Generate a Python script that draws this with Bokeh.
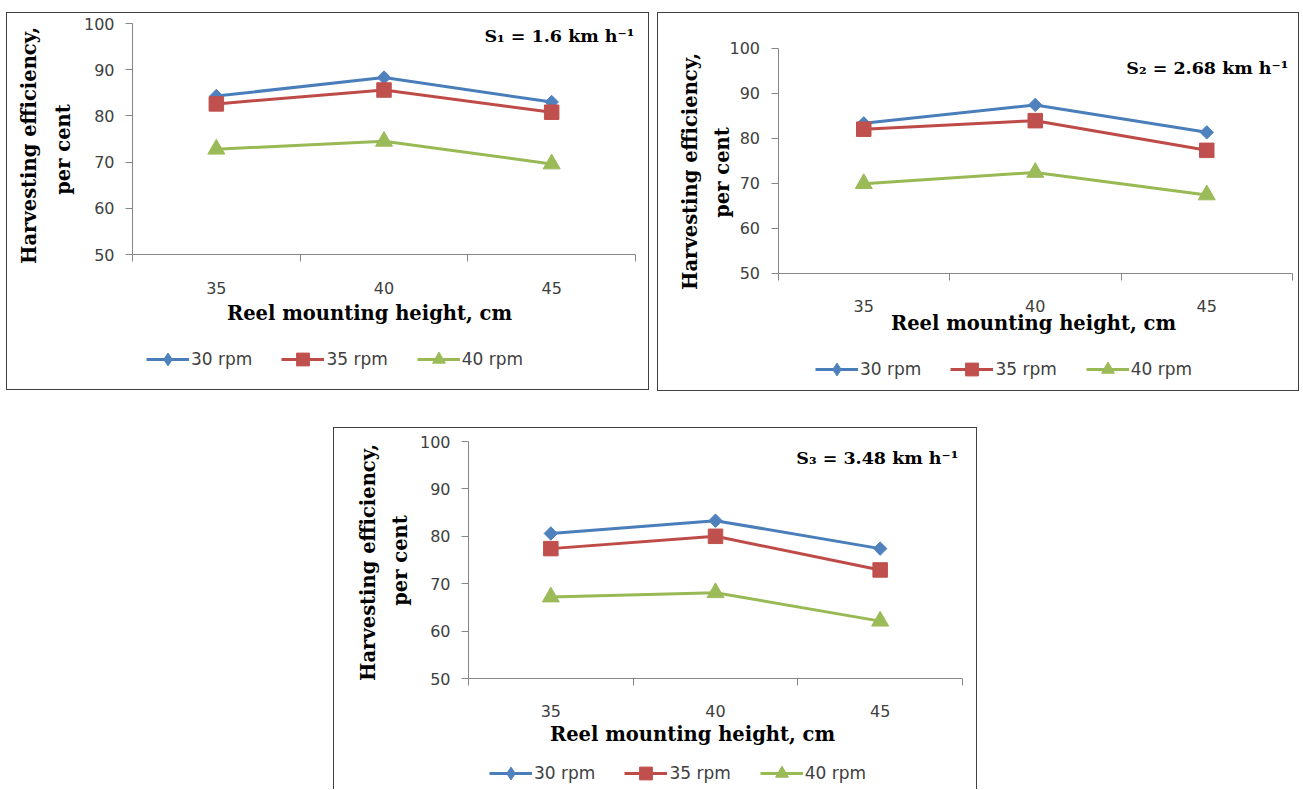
import numpy as np
from bokeh.plotting import figure
from bokeh.models import Range1d, FixedTicker, Legend, LegendItem, Label, Spacer
from bokeh.layouts import column, row
from bokeh.embed import file_html
from bokeh.resources import INLINE

# ---------------- data ----------------
heights_cm = [35, 40, 45]
rpm_labels = ["30 rpm", "35 rpm", "40 rpm"]

s1_30rpm = [84.3, 88.3, 83.0]
s1_35rpm = [82.6, 85.6, 80.8]
s1_40rpm = [72.8, 74.5, 69.6]

s2_30rpm = [83.3, 87.4, 81.3]
s2_35rpm = [82.0, 83.9, 77.3]
s2_40rpm = [69.9, 72.4, 67.4]

s3_30rpm = [80.6, 83.3, 77.4]
s3_35rpm = [77.4, 80.0, 72.9]
s3_40rpm = [67.2, 68.1, 62.1]

speed_labels = ["S\u2081 = 1.6 km h\u207b\u00b9", "S\u2082 = 2.68 km h\u207b\u00b9", "S\u2083 = 3.48 km h\u207b\u00b9"]
x_title = "Reel mounting height, cm"
y_title_lines = ["Harvesting efficiency,", "per cent"]
y_ticks = [50, 60, 70, 80, 90, 100]
category_edges = [32.5, 37.5, 42.5, 47.5]

# ---------------- style ----------------
LINE_COLORS = ["#4A7EBB", "#BE4B48", "#98B954"]
FILL_COLORS = ["#4F81BD", "#C0504D", "#9BBB59"]
# (plot marker, angle, size, legend marker or None)
MARKERS = [("square", np.pi / 4, 9.5, "diamond"), ("square", 0.0, 14.5, None), ("triangle", 0.0, 17, None)]
AXIS_COLOR = "#868686"
TEXT_COLOR = "#404040"
SANS = "DejaVu Sans"
SERIF = "DejaVu Serif"


def title_label(text, x, y, angle=0.0):
    return Label(x=x, y=y, x_units="screen", y_units="screen", text=text, angle=angle,
                 text_align="center", text_baseline="middle", text_font=SERIF,
                 text_font_style="bold", text_font_size="19.5px", text_color="black")


def make_panel(series, note, w, h, frame_px, xl_standoff, ytitle_pos, xtitle_pos,
               leg_xy, note_y, note_off, styles):
    # frame_px: pixel positions (inside this figure) of x=first edge, x=last edge, y=100, y=50
    xl, xr, yt, yb = frame_px
    x_lo, x_hi = category_edges[0], category_edges[-1]
    y_lo, y_hi = y_ticks[0], y_ticks[-1]
    ppx = (xr - xl) / (x_hi - x_lo)
    ppu = (yb - yt) / (y_hi - y_lo)
    xr_ = Range1d(x_lo - xl / ppx, x_hi + (w - xr) / ppx)
    yr_ = Range1d(y_lo - (h - yb) / ppu, y_hi + yt / ppu)

    p = figure(width=w, height=h, x_range=xr_, y_range=yr_, toolbar_location=None,
               output_backend="svg", title=None,
               min_border_left=0, min_border_right=0, min_border_top=0, min_border_bottom=0)
    p.grid.visible = False
    p.outline_line_color = None
    p.background_fill_color = "white"
    p.border_fill_color = "white"

    xa = p.xaxis[0]
    xa.fixed_location = y_lo
    xa.bounds = (x_lo, x_hi)
    xa.ticker = FixedTicker(ticks=heights_cm, minor_ticks=category_edges)
    xa.major_tick_out = 0
    xa.major_tick_in = 0
    xa.minor_tick_out = 7
    xa.minor_tick_in = 0
    xa.minor_tick_line_color = AXIS_COLOR
    xa.axis_line_color = AXIS_COLOR
    xa.major_label_standoff = xl_standoff
    xa.major_label_text_font = SANS
    xa.major_label_text_font_size = "16px"
    xa.major_label_text_color = TEXT_COLOR

    ya = p.yaxis[0]
    ya.fixed_location = x_lo
    ya.bounds = (y_lo, y_hi)
    ya.ticker = FixedTicker(ticks=y_ticks)
    ya.major_tick_out = 7
    ya.major_tick_in = 0
    ya.minor_tick_out = 0
    ya.minor_tick_in = 0
    ya.major_tick_line_color = AXIS_COLOR
    ya.axis_line_color = AXIS_COLOR
    ya.major_label_standoff = 11
    ya.major_label_text_font = SANS
    ya.major_label_text_font_size = "16px"
    ya.major_label_text_color = TEXT_COLOR

    items = []
    for vals, lab, lc, fc, (mk, ang, sz, leg_mk) in zip(series, rpm_labels, LINE_COLORS,
                                                        FILL_COLORS, MARKERS):
        lr = p.line(heights_cm, vals, line_color=lc, line_width=3)
        sr = p.scatter(heights_cm, vals, marker=mk, angle=ang, size=sz,
                       fill_color=fc, line_color=fc)
        if leg_mk is not None:
            # legend-only marker (zero size on the plot)
            sr = p.scatter(heights_cm, vals, marker=leg_mk, size=0,
                           fill_color=fc, line_color=fc)
        items.append(LegendItem(label=lab, renderers=[lr, sr]))

    legend = Legend(items=items, orientation="horizontal", location=leg_xy,
                    glyph_width=43, glyph_height=32, label_standoff=2, spacing=29,
                    padding=0, margin=0, border_line_color=None, background_fill_alpha=0,
                    label_text_font=SANS, label_text_font_size="17px",
                    label_text_color=TEXT_COLOR)
    p.add_layout(legend)

    (y1x, y1y), (y2x, y2y) = ytitle_pos
    p.add_layout(title_label(y_title_lines[0], y1x, y1y, np.pi / 2))
    p.add_layout(title_label(y_title_lines[1], y2x, y2y, np.pi / 2))
    p.add_layout(title_label(x_title, xtitle_pos[0], xtitle_pos[1]))

    p.add_layout(Label(x=x_hi, y=note_y, x_offset=note_off, text=note,
                       text_align="right", text_baseline="middle", text_font=SERIF,
                       text_font_style="bold", text_font_size="17.5px", text_color="black"))
    p.styles = styles
    return p


border = {"border": "1px solid #404040"}
p1 = make_panel([s1_30rpm, s1_35rpm, s1_40rpm], speed_labels[0], 643, 378,
                (125, 628, 10, 241), 20, ((22, 246), (56, 242)), (362, 78),
                (139, 16), 97.2, -1, border)
p2 = make_panel([s2_30rpm, s2_35rpm, s2_40rpm], speed_labels[1], 642, 379,
                (119.5, 634, 34.7, 259.7), 20, ((32, 221), (63.5, 220)), (375, 69),
                (157, 7), 95.6, -4, border)
p3 = make_panel([s3_30rpm, s3_35rpm, s3_40rpm], speed_labels[2], 644, 362,
                (134, 628, 13, 250), 19, ((34, 228), (65.5, 230)), (358, 56),
                (155, 1), 96.6, -4,
                {"border": "1px solid #404040", "border-bottom": "none"})

layout = column(
    Spacer(height=12),
    row(Spacer(width=6), p1, Spacer(width=8), p2),
    Spacer(height=36),
    row(Spacer(width=333), p3),
)

open("out.html", "w").write(file_html(layout, INLINE))
